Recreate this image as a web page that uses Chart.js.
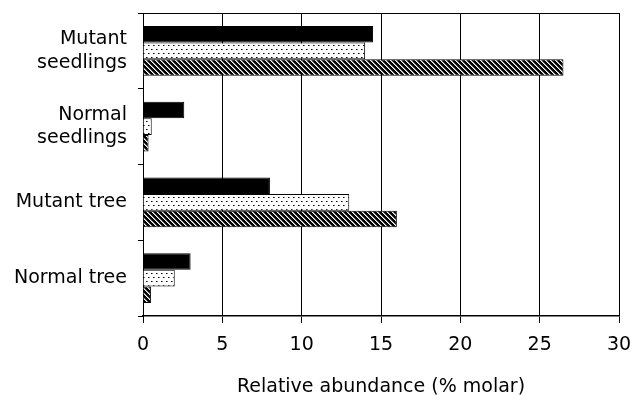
<!DOCTYPE html>
<html>
<head>
<meta charset="utf-8">
<script src="https://cdn.jsdelivr.net/npm/chart.js"></script>
<style>
  body { margin: 0; background: #fff; }
  #wrap { position: relative; width: 633px; height: 396px; }
</style>
</head>
<body>
<div id="wrap"><canvas id="abundance"></canvas></div>
<script>
const categories = [["Mutant", "seedlings"], ["Normal", "seedlings"], "Mutant tree", "Normal tree"];
const solidValues = [14.5, 2.6, 8.0, 3.0];
const dottedValues = [14.0, 0.55, 13.0, 2.0];
const hatchedValues = [26.5, 0.35, 16.0, 0.5];
const xTicks = [0, 5, 10, 15, 20, 25, 30];

// fill patterns like the printed figure
function dotPattern() {
  const c = document.createElement("canvas");
  c.width = 5; c.height = 8;
  const g = c.getContext("2d");
  g.fillStyle = "#fff";
  g.fillRect(0, 0, 5, 8);
  g.fillStyle = "#000";
  g.fillRect(1, 1, 1, 1);
  g.fillRect(3, 5, 1, 1);
  g.fillStyle = "#777";
  g.fillRect(2, 1, 1, 1);
  g.fillRect(4, 5, 1, 1);
  return g.createPattern(c, "repeat");
}

function hatchPattern() {
  const c = document.createElement("canvas");
  c.width = 5; c.height = 5;
  const g = c.getContext("2d");
  g.fillStyle = "#000";
  g.fillRect(0, 0, 5, 5);
  for (let y = 0; y < 5; y++) {
    g.fillStyle = "#fff";
    g.fillRect(y % 5, y, 1, 1);
    g.fillStyle = "#888";
    g.fillRect((y + 1) % 5, y, 1, 1);
  }
  return g.createPattern(c, "repeat");
}

const topBorder = {
  id: "topBorder",
  afterDatasetsDraw(chart) {
    const { ctx, chartArea } = chart;
    ctx.save();
    ctx.strokeStyle = "#000";
    ctx.lineWidth = 1;
    ctx.beginPath();
    ctx.moveTo(chartArea.left, chartArea.top + 0.5);
    ctx.lineTo(chartArea.right, chartArea.top + 0.5);
    ctx.stroke();
    ctx.restore();
  },
};

const font = "'DejaVu Sans', sans-serif";

new Chart(document.getElementById("abundance"), {
  type: "bar",
  data: {
    labels: categories,
    datasets: [
      { data: solidValues, backgroundColor: "#000" },
      { data: dottedValues, backgroundColor: dotPattern() },
      { data: hatchedValues, backgroundColor: hatchPattern() },
    ].map((d) => ({
      ...d,
      borderColor: "#000",
      borderWidth: 1,
      barPercentage: 1.0,
      categoryPercentage: 0.66,
    })),
  },
  options: {
    indexAxis: "y",
    responsive: true,
    maintainAspectRatio: false,
    animation: false,
    layout: { padding: { top: 13, right: 14, left: 0, bottom: 0 } },
    plugins: { legend: { display: false }, tooltip: { enabled: false } },
    scales: {
      x: {
        min: 0,
        max: 30,
        afterBuildTicks: (s) => { s.ticks = xTicks.map((v) => ({ value: v })); },
        afterFit: (s) => {
          s.height = 80;
          s.paddingLeft = 0;
          s.paddingRight = 0;
        },
        ticks: { color: "#000", padding: 11, maxRotation: 0, font: { family: font, size: 19 } },
        grid: { color: "#000", lineWidth: 1, tickLength: 7 },
        border: { color: "#000", width: 1.5 },
        title: {
          display: true,
          text: "Relative abundance (% molar)",
          color: "#000",
          padding: { top: 0, bottom: -2 },
          font: { family: font, size: 19 },
        },
      },
      y: {
        afterFit: (s) => {
          s.width = 143;
          s.paddingTop = 0;
          s.paddingBottom = 0;
        },
        ticks: { color: "#000", padding: 11, font: { family: font, size: 19, lineHeight: 1.25 } },
        grid: { drawOnChartArea: false, color: "#000", tickLength: 5 },
        border: { color: "#000", width: 1 },
      },
    },
  },
  plugins: [topBorder],
});
</script>
</body>
</html>
